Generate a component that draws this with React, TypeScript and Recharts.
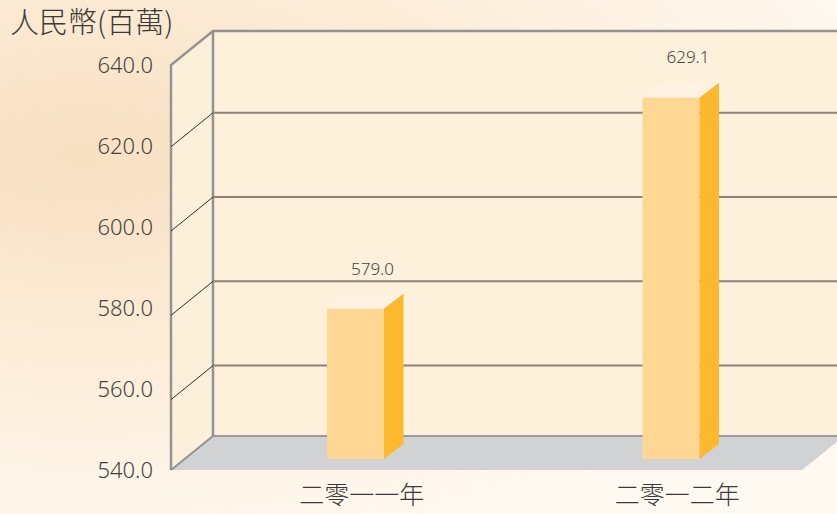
import React from 'react';
import {
  BarChart,
  Bar,
  XAxis,
  YAxis,
  CartesianGrid,
  ReferenceArea,
  LabelList,
} from 'recharts';

// data
const years = ['二零一一年', '二零一二年'];
const profits = [579.0, 629.1];
const yTicks = [540, 560, 580, 600, 620, 640];
const gridTicks = [560, 580, 600, 620];

const data = years.map((year, i) => ({ year, value: profits[i] }));

// the 3D walls in the source are drawn on a slightly tighter scale than the printed labels,
// and the floor slab hides the bottom few units
const geoDomain = [543.3, 639.4];

const WALL_DX = 42;
const WALL_DY = 34;
const BAR_DX = 27;
const BAR_DY = 11;
const SIDE_DX = 19.5;
const SIDE_DY = 15;

const FONT_NUM = '"Noto Sans", "Open Sans", sans-serif';
const FONT_CJK = '"Noto Sans CJK TC", "Noto Sans CJK SC", sans-serif';

const Walls = (props: any) => {
  const { x, y, width, height } = props;
  const bx = x + WALL_DX;
  const by = y - WALL_DY;
  const bottom = y + height;
  const bb = bottom - WALL_DY;
  return (
    <g>
      <rect x={bx} y={by} width={width} height={height} fill="#fef1dc" />
      <polygon points={`${x},${y} ${bx},${by} ${bx},${bb} ${x},${bottom}`} fill="#fdf0da" />
      <polygon
        points={`${x},${bottom} ${bx},${bb} ${bx + width},${bb} ${x + width},${bottom}`}
        fill="#d1d2d4"
      />
      <line x1={bx} y1={bb} x2={bx + width} y2={bb} stroke="#9a9a9a" strokeWidth={2} />
      <line x1={bx} y1={by} x2={bx} y2={bb} stroke="#939393" strokeWidth={2.5} />
      <line x1={x} y1={bottom} x2={bx} y2={bb} stroke="#939393" strokeWidth={2} />
      <polyline
        points={`${x},${bottom} ${x},${y} ${bx},${by} ${bx + width},${by}`}
        fill="none"
        stroke="#939393"
        strokeWidth={2.5}
      />
    </g>
  );
};

const GridLine = (p: any) => {
  const { x1, y1, x2 } = p;
  // the plot edges are already drawn by the wall frame
  if (Math.abs(y1 - p.y) < 1 || Math.abs(y1 - (p.y + p.height)) < 1) return <g key={`grid-${y1}`} />;
  return (
    <g key={`grid-${y1}`}>
      <line x1={x1} y1={y1} x2={x1 + WALL_DX} y2={y1 - WALL_DY} stroke="#2f2f2f" strokeWidth={1} />
      <line
        x1={x1 + WALL_DX}
        y1={y1 - WALL_DY}
        x2={x2 + WALL_DX}
        y2={y1 - WALL_DY}
        stroke="#8d8378"
        strokeWidth={2}
      />
    </g>
  );
};

const Box = (props: any) => {
  const { x, y, width, height } = props;
  const fx = x + BAR_DX;
  const top = y - BAR_DY;
  const base = y + height - BAR_DY;
  const rx = fx + width;
  return (
    <g>
      <rect x={fx} y={top} width={width} height={base - top} fill="#fed795" />
      <polygon
        points={`${rx},${top} ${rx + SIDE_DX},${top - SIDE_DY} ${rx + SIDE_DX},${base - SIDE_DY} ${rx},${base}`}
        fill="#fdb92e"
      />
      <polygon
        points={`${fx},${top} ${fx + SIDE_DX},${top - SIDE_DY} ${rx + SIDE_DX},${top - SIDE_DY} ${rx},${top}`}
        fill="#fef3e2"
      />
    </g>
  );
};

const ValueLabel = (props: any) => {
  const { x, y, width, value } = props;
  return (
    <text
      x={x + BAR_DX + width / 2 + 17}
      y={y - BAR_DY - 34}
      textAnchor="middle"
      fontFamily={FONT_NUM}
      fontWeight={300}
      fontSize={17}
      fill="#444"
    >
      {Number(value).toFixed(1)}
    </text>
  );
};

const YearTick = (props: any) => {
  const { x, y, payload } = props;
  return (
    <text
      x={x + 33}
      y={y + 34}
      textAnchor="middle"
      fontFamily={FONT_CJK}
      fontWeight={300}
      fontSize={25}
      fill="#3a3a3a"
    >
      {payload.value}
    </text>
  );
};

const AxisTitle = (props: any) => {
  const { viewBox } = props;
  return (
    <text
      x={viewBox.x + 10}
      y={viewBox.y - 32}
      fontFamily={FONT_CJK}
      fontWeight={300}
      fontSize={29}
      fill="#3a3a3a"
    >
      人民幣(百萬)
    </text>
  );
};

export default function App() {
  return (
    <div
      style={{
        position: 'absolute',
        left: 0,
        top: 0,
        width: 837,
        height: 514,
        background:
          'radial-gradient(ellipse at 10% 30%, #f8e0c2 0%, #fcedd9 40%, #fff9f1 80%)',
      }}
    >
      <BarChart
        width={837}
        height={514}
        data={data}
        margin={{ top: 65, right: 35, bottom: 0, left: 0 }}
      >
        <ReferenceArea y1={540} y2={640} shape={<Walls />} zIndex={-200} />
        <CartesianGrid
          yAxisId="geo"
          vertical={false}
          horizontal={GridLine}
        />
        <XAxis
          dataKey="year"
          height={44}
          axisLine={false}
          tickLine={false}
          tickSize={0}
          tickMargin={0}
          tick={<YearTick />}
        />
        <YAxis
          domain={[540, 640]}
          ticks={yTicks}
          allowDataOverflow
          width={171}
          axisLine={false}
          tickLine={false}
          tickSize={0}
          tickMargin={18}
          tickFormatter={(v) => v.toFixed(1)}
          tick={{ fontSize: 22, fill: '#444', fontFamily: FONT_NUM, fontWeight: 300 }}
          label={<AxisTitle />}
        />
        <YAxis
          yAxisId="geo"
          orientation="right"
          hide
          width={0}
          domain={geoDomain}
          ticks={gridTicks}
          allowDataOverflow
        />
        <Bar
          yAxisId="geo"
          dataKey="value"
          barSize={57}
          shape={<Box />}
          isAnimationActive={false}
        >
          <LabelList dataKey="value" content={<ValueLabel />} />
        </Bar>
      </BarChart>
    </div>
  );
}
